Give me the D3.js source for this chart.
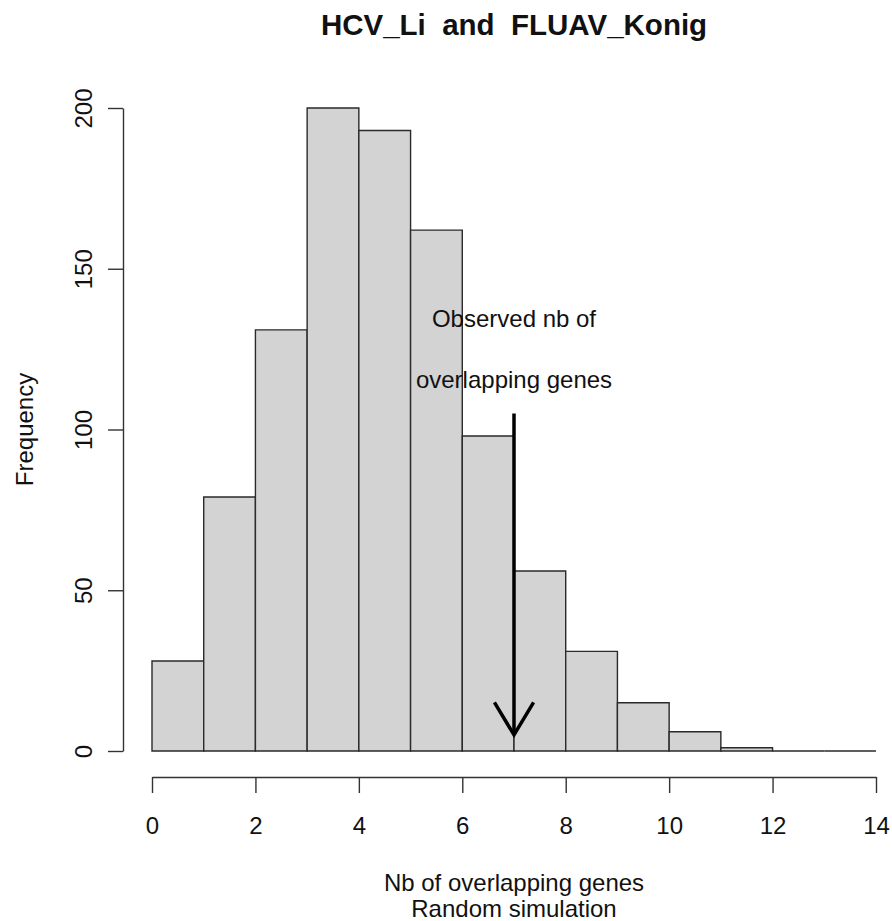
<!DOCTYPE html>
<html>
<head>
<meta charset="utf-8">
<script src="https://cdn.jsdelivr.net/npm/d3@7"></script>
<style>
  html, body { margin: 0; padding: 0; background: #fff; }
  svg { display: block; }
  text { font-family: "Liberation Sans", Arial, sans-serif; fill: #111; }
</style>
</head>
<body>
<svg id="chart" width="892" height="921"></svg>
<script>
// ---- data ----
const binStarts = [0, 1, 2, 3, 4, 5, 6, 7, 8, 9, 10, 11, 12, 13];
const binWidth = 1;
const counts = [28, 79, 131, 200, 193, 162, 98, 56, 31, 15, 6, 1, 0, 0];
const xTicks = [0, 2, 4, 6, 8, 10, 12, 14];
const yTicks = [0, 50, 100, 150, 200];
const titleText = "HCV_Li  and  FLUAV_Konig";
const xLabelLines = ["Nb of overlapping genes", "Random simulation"];
const yLabelText = "Frequency";
const observedValue = [7];
const arrowFromTo = [105, 5];
const noteLines = ["Observed nb of", "overlapping genes"];
const noteY = [132, 113];

// ---- layout ----
const svg = d3.select("#chart");
const x = d3.scaleLinear().domain([0, 14]).range([152, 876]);
const y = d3.scaleLinear().domain([0, 200]).range([751, 108]);
const fs = 24;
const ff = "'Liberation Sans', Arial, sans-serif";

svg.append("rect").attr("width", 892).attr("height", 921).attr("fill", "#fff");

// bars (zero-height bins drawn as a flat outline)
const bins = binStarts.map((s, i) => ({ s, c: counts[i] }));
svg.append("g").selectAll("path")
  .data(bins)
  .join("path")
  .attr("d", d => {
    const x0 = x(d.s), x1 = x(d.s + binWidth), yt = y(d.c), yb = y(0);
    return `M${x0},${yb}V${yt}H${x1}V${yb}Z`;
  })
  .attr("fill", "#d3d3d3")
  .attr("stroke", "#2a2a2a")
  .attr("stroke-width", 1.4);

// x axis
const xAxis = svg.append("g")
  .attr("transform", "translate(0,777)")
  .call(d3.axisBottom(x).tickValues(xTicks).tickSize(16).tickSizeOuter(0).tickFormat(d3.format("d")));
xAxis.selectAll("path, line").attr("stroke", "#333").attr("stroke-width", 1.4);
xAxis.selectAll("text")
  .attr("y", 57).attr("dy", 0)
  .style("font-size", fs + "px")
  .style("font-family", ff)
  .attr("fill", "#111");

// y axis
const yAxis = svg.append("g")
  .attr("transform", "translate(123,0)")
  .call(d3.axisLeft(y).tickValues(yTicks).tickSize(15).tickSizeOuter(0).tickFormat(d3.format("d")));
yAxis.selectAll("path, line").attr("stroke", "#333").attr("stroke-width", 1.4);
yAxis.selectAll("text")
  .attr("x", null).attr("dy", null)
  .attr("transform", "translate(-31,0) rotate(-90)")
  .attr("text-anchor", "middle")
  .style("font-size", fs + "px")
  .style("font-family", ff)
  .attr("fill", "#111");

// title
svg.append("text")
  .attr("x", x(7)).attr("y", 35)
  .attr("text-anchor", "middle")
  .style("white-space", "pre")
  .attr("xml:space", "preserve")
  .style("font-size", "29.5px")
  .style("font-weight", "bold")
  .text(titleText);

// x label
svg.append("g").selectAll("text")
  .data(xLabelLines)
  .join("text")
  .attr("x", x(7))
  .attr("y", (d, i) => 891 + i * 26)
  .attr("text-anchor", "middle")
  .style("font-size", fs + "px")
  .text(d => d);

// y label
svg.append("text")
  .attr("transform", `translate(33,${y(100)}) rotate(-90)`)
  .attr("text-anchor", "middle")
  .style("font-size", fs + "px")
  .text(yLabelText);

// annotation text
svg.append("g").selectAll("text")
  .data(noteLines)
  .join("text")
  .attr("x", x(observedValue[0]))
  .attr("y", (d, i) => y(noteY[i]))
  .attr("text-anchor", "middle")
  .style("font-size", fs + "px")
  .text(d => d);

// arrow
const ax = x(observedValue[0]);
const y0 = y(arrowFromTo[0]), y1 = y(arrowFromTo[1]);
const headLen = 38, ang = 31 * Math.PI / 180;
svg.append("line")
  .attr("x1", ax).attr("y1", y0).attr("x2", ax).attr("y2", y1)
  .attr("stroke", "#000").attr("stroke-width", 3.5);
svg.append("path")
  .attr("d", `M${ax - headLen * Math.sin(ang)},${y1 - headLen * Math.cos(ang)} L${ax},${y1} L${ax + headLen * Math.sin(ang)},${y1 - headLen * Math.cos(ang)}`)
  .attr("fill", "none").attr("stroke", "#000").attr("stroke-width", 3.5)
  .attr("stroke-linejoin", "miter");
</script>
</body>
</html>
